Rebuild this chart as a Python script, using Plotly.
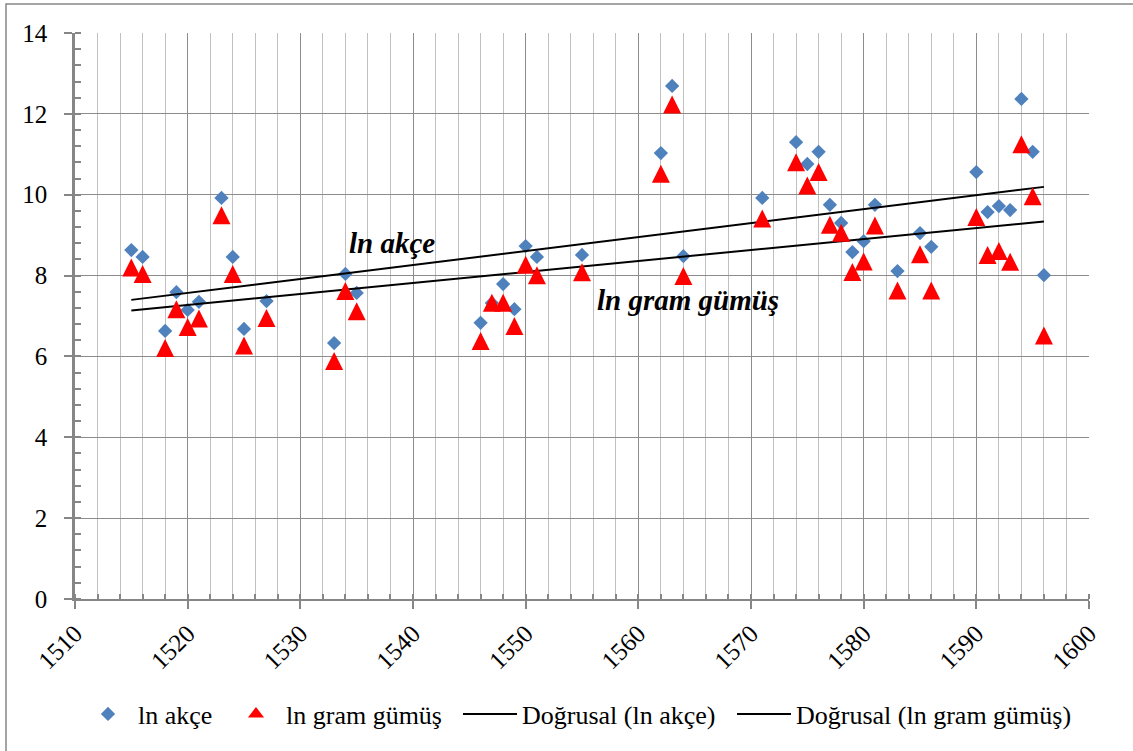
import numpy as np
import plotly.graph_objects as go

# ---- data ----
years = [1515, 1516, 1518, 1519, 1520, 1521, 1523, 1524, 1525, 1527,
         1533, 1534, 1535, 1546, 1547, 1548, 1549, 1550, 1551, 1555,
         1562, 1563, 1564, 1571, 1574, 1575, 1576, 1577, 1578, 1579,
         1580, 1581, 1583, 1585, 1586, 1590, 1591, 1592, 1593, 1594,
         1595, 1596]
ln_akce = [8.63, 8.46, 6.63, 7.59, 7.15, 7.35, 9.92, 8.46, 6.68, 7.37,
           6.33, 8.04, 7.57, 6.83, 7.32, 7.79, 7.17, 8.73, 8.46, 8.51,
           11.03, 12.69, 8.48, 9.92, 11.30, 10.76, 11.06, 9.75, 9.30, 8.58,
           8.85, 9.75, 8.11, 9.05, 8.71, 10.56, 9.57, 9.72, 9.62, 12.37,
           11.06, 8.01]
ln_gram = [8.20, 8.04, 6.21, 7.17, 6.73, 6.94, 9.49, 8.04, 6.27, 6.95,
           5.89, 7.62, 7.12, 6.38, 7.33, 7.33, 6.75, 8.27, 8.01, 8.08,
           10.52, 12.23, 7.99, 9.41, 10.80, 10.23, 10.56, 9.26, 9.06, 8.09,
           8.35, 9.24, 7.63, 8.53, 7.63, 9.45, 8.51, 8.61, 8.34, 11.25,
           9.96, 6.52]
x_range = [1510, 1600]
y_range = [0, 14]
series_names = ["ln akçe", "ln gram gümüş",
                "Doğrusal (ln akçe)", "Doğrusal (ln gram gümüş)"]

# ---- layout constants ----
W, H = 1133, 751
M_L, M_R, M_T, M_B = 75, 44, 33, 152
FONT = "Times New Roman, Liberation Serif, serif"
AXIS_GRAY = "#868686"
MAJOR_GRID = "#8c8c8c"
MINOR_GRID = "#c0c0c0"
TRI_SIZE = 18

plot_h = H - M_T - M_B
plot_w = W - M_L - M_R
px_per_unit = plot_h / (y_range[1] - y_range[0])
# arrow-up symbol has its apex on the point; lift it so the marker box is centred on the value
tri_shift = (TRI_SIZE / 2) / px_per_unit

# linear trendlines (least squares, like Excel)
xa = np.array(years, dtype=float)
fit_a = np.polyfit(xa, np.array(ln_akce), 1)
fit_g = np.polyfit(xa, np.array(ln_gram), 1)
x_tr = [min(years), max(years)]

fig = go.Figure()
fig.add_trace(go.Scatter(
    x=years, y=ln_akce, mode="markers", name=series_names[0], legend="legend",
    marker=dict(symbol="diamond", size=11, color="#4F81BD", line=dict(width=0))))
fig.add_trace(go.Scatter(
    x=years, y=ln_gram, mode="markers", name=series_names[1], yaxis="y2",
    marker=dict(symbol="arrow-up", size=TRI_SIZE, color="#FF0000", line=dict(width=0)),
    showlegend=False))
fig.add_trace(go.Scatter(
    x=[None], y=[None], mode="markers", name=series_names[1], legend="legend2",
    marker=dict(symbol="triangle-up", size=14, color="#FF0000", line=dict(width=0))))
fig.add_trace(go.Scatter(
    x=x_tr, y=list(np.polyval(fit_a, x_tr)), mode="lines", name=series_names[2],
    legend="legend3", line=dict(color="black", width=2)))
fig.add_trace(go.Scatter(
    x=x_tr, y=list(np.polyval(fit_g, x_tr)), mode="lines", name=series_names[3],
    legend="legend4", line=dict(color="black", width=2)))


def px_x(px):
    return (px - M_L) / plot_w


LEG_Y = (H - M_B - 714) / plot_h


def leg(left_px, itemwidth):
    return dict(orientation="h", x=px_x(left_px), xanchor="left", y=LEG_Y, yanchor="middle",
                font=dict(family=FONT, size=26, color="black"), itemwidth=itemwidth,
                bgcolor="rgba(0,0,0,0)", borderwidth=0)


fig.update_layout(
    width=W, height=H,
    margin=dict(l=M_L, r=M_R, t=M_T, b=M_B, pad=0),
    paper_bgcolor="white", plot_bgcolor="white",
    font=dict(family=FONT, size=25, color="black"),
    showlegend=True,
    legend=leg(78, 50),
    legend2=leg(226, 50),
    legend3=leg(458, 54),
    legend4=leg(732, 54),
    xaxis=dict(range=x_range, tick0=1510, dtick=10, tickangle=-45,
               showgrid=True, gridcolor=MAJOR_GRID, gridwidth=1.3,
               showline=True, linecolor=AXIS_GRAY, linewidth=2, mirror=False,
               ticks="outside", ticklen=8, tickwidth=2, tickcolor=AXIS_GRAY,
               zeroline=False,
               tickfont=dict(family=FONT, size=25, color="black"),
               minor=dict(dtick=2, tick0=1510, showgrid=True, gridcolor=MINOR_GRID,
                          gridwidth=1.3, ticks="inside", ticklen=5, tickwidth=1.5,
                          tickcolor=AXIS_GRAY)),
    yaxis=dict(range=y_range, dtick=2, tick0=0,
               showgrid=True, gridcolor=MAJOR_GRID, gridwidth=1.3,
               showline=True, linecolor=AXIS_GRAY, linewidth=2.5,
               ticks="outside", ticklen=8, tickwidth=2, tickcolor=AXIS_GRAY,
               zeroline=False, ticklabelstandoff=12,
               tickfont=dict(family=FONT, size=25, color="black"),
               minor=dict(dtick=0.4, tick0=0, showgrid=False, ticks="inside",
                          ticklen=6, tickwidth=1.5, tickcolor=AXIS_GRAY)),
    yaxis2=dict(range=[y_range[0] - tri_shift, y_range[1] - tri_shift],
                overlaying="y", visible=False),
)

fig.add_annotation(x=1538.1, y=8.81, xref="x", yref="y", text="<b><i>ln akçe</i></b>",
                   showarrow=False, font=dict(family=FONT, size=29, color="black"))
fig.add_annotation(x=1564.4, y=7.40, xref="x", yref="y", text="<b><i>ln gram gümüş</i></b>",
                   showarrow=False, font=dict(family=FONT, size=29, color="black"))

# chart-area frame (right and bottom edges fall outside the picture)
fig.add_shape(type="rect", xref="paper", yref="paper", layer="below",
              x0=(6 - M_L) / plot_w, x1=(W + 10 - M_L) / plot_w,
              y0=-(H + 10 - (H - M_B)) / plot_h, y1=1 + (M_T - 4) / plot_h,
              line=dict(color=AXIS_GRAY, width=1.5), fillcolor="rgba(0,0,0,0)")

fig.write_html("out.html", config={"displayModeBar": False},
               post_script="document.body.style.margin='0';document.body.style.overflow='hidden';")
